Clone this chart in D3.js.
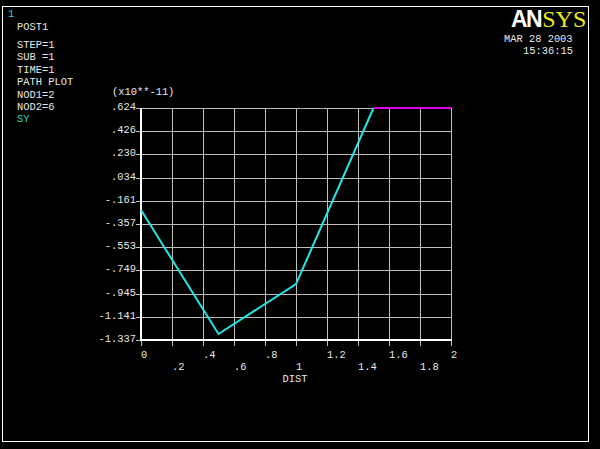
<!DOCTYPE html>
<html><head><meta charset="utf-8">
<script src="https://cdn.jsdelivr.net/npm/d3@7"></script>
<style>
html,body{margin:0;padding:0;background:#000;}
svg{display:block;}
text{font-family:"Liberation Mono","DejaVu Sans Mono",monospace;font-size:10.4px;fill:#e8e8e8;}
</style></head>
<body>
<script>
// ---- data ----
const dist = [0, 0.5, 1.0, 1.5];
const sy = [-0.238, -1.286, -0.864, 0.624];
const distClip = [1.5, 2.0];
const syClip = [0.624, 0.624];
const yTickValues = [0.624, 0.428, 0.232, 0.036, -0.161, -0.357, -0.553, -0.749, -0.945, -1.141, -1.337];
const yTickLabels = [".624", ".426", ".230", ".034", "-.161", "-.357", "-.553", "-.749", "-.945", "-1.141", "-1.337"];
const xTickValues = [0, 0.2, 0.4, 0.6, 0.8, 1.0, 1.2, 1.4, 1.6, 1.8, 2.0];
const xTickLabels = ["0", ".2", ".4", ".6", ".8", "1", "1.2", "1.4", "1.6", "1.8", "2"];
const infoLines = ["STEP=1", "SUB =1", "TIME=1", "PATH PLOT", "NOD1=2", "NOD2=6"];

const W = 600, H = 449;
const svg = d3.select("body").append("svg").attr("width", W).attr("height", H);
svg.append("rect").attr("width", W).attr("height", H).attr("fill", "#000");
// frame
svg.append("rect").attr("x", 2.5).attr("y", 6.5).attr("width", 586).attr("height", 435)
  .attr("fill", "none").attr("stroke", "#fff").attr("stroke-width", 1);

const x = d3.scaleLinear().domain([0, 2]).range([141, 451]);
const y = d3.scaleLinear().domain([-1.337, 0.624]).range([340, 108]);

// grid
const g = svg.append("g");
g.selectAll("line.hg").data(yTickValues).enter().append("line")
  .attr("x1", 136).attr("x2", x(2)).attr("y1", d => Math.round(y(d)) + 0.5).attr("y2", d => Math.round(y(d)) + 0.5)
  .attr("stroke", "#bdbdbd").attr("stroke-width", 1);
g.selectAll("line.vg").data(xTickValues).enter().append("line")
  .attr("x1", d => Math.round(x(d)) + 0.5).attr("x2", d => Math.round(x(d)) + 0.5)
  .attr("y1", y(0.624)).attr("y2", 346)
  .attr("stroke", "#bdbdbd").attr("stroke-width", 1);

// axes (white)
svg.append("line").attr("x1", x(0)).attr("x2", x(0)).attr("y1", y(0.624)).attr("y2", y(-1.337) + 1)
  .attr("stroke", "#fff").attr("stroke-width", 2);
svg.append("line").attr("x1", x(0) - 1).attr("x2", x(2) + 1).attr("y1", y(-1.337)).attr("y2", y(-1.337))
  .attr("stroke", "#fff").attr("stroke-width", 2);

// y labels
svg.selectAll("text.yl").data(yTickValues).enter().append("text")
  .attr("x", 136).attr("y", d => y(d) + 2).attr("text-anchor", "end")
  .text((d, i) => yTickLabels[i]);
// x labels
svg.selectAll("text.xl").data(xTickValues).enter().append("text")
  .attr("x", d => x(d)).attr("y", (d, i) => i % 2 === 0 ? 358 : 370)
  .text((d, i) => xTickLabels[i]);
svg.append("text").attr("x", 295).attr("y", 382).attr("text-anchor", "middle").text("DIST");
svg.append("text").attr("x", 112).attr("y", 95).text("(x10**-11)");

// lines
const line = d3.line().x(d => x(d[0])).y(d => y(d[1]));
svg.append("path").datum(dist.map((d, i) => [d, sy[i]])).attr("d", line)
  .attr("fill", "none").attr("stroke", "#22e6e6").attr("stroke-width", 2).attr("stroke-linejoin", "miter");
svg.append("path").datum(distClip.map((d, i) => [d, syClip[i]])).attr("d", line)
  .attr("fill", "none").attr("stroke", "#e000e0").attr("stroke-width", 2);

// header text
svg.append("text").attr("x", 8).attr("y", 17).style("fill", "#2ad7d7").text("1");
svg.append("text").attr("x", 17).attr("y", 30).text("POST1");
svg.selectAll("text.info").data(infoLines).enter().append("text")
  .attr("x", 17).attr("y", (d, i) => 48 + i * 12.4).text(d => d);
svg.append("text").attr("x", 17).attr("y", 48 + 6 * 12.4).style("fill", "#2ad7d7").text("SY");

// logo
const logo = svg.append("text").attr("x", 511).attr("y", 27)
  .style("font-family", "'Liberation Sans','DejaVu Sans',sans-serif").style("font-size", "23px").style("font-weight", "bold");
logo.append("tspan").style("fill", "#fff").style("letter-spacing", "-1.5px").text("AN");
logo.append("tspan").attr("dx", 1).style("fill", "#ecec20").style("font-family", "'Liberation Serif',serif").style("font-weight", "normal").style("font-size", "24px").text("SYS");
svg.append("text").attr("x", 504).attr("y", 42).text("MAR 28 2003");
svg.append("text").attr("x", 523).attr("y", 54).text("15:36:15");
</script>
</body></html>
